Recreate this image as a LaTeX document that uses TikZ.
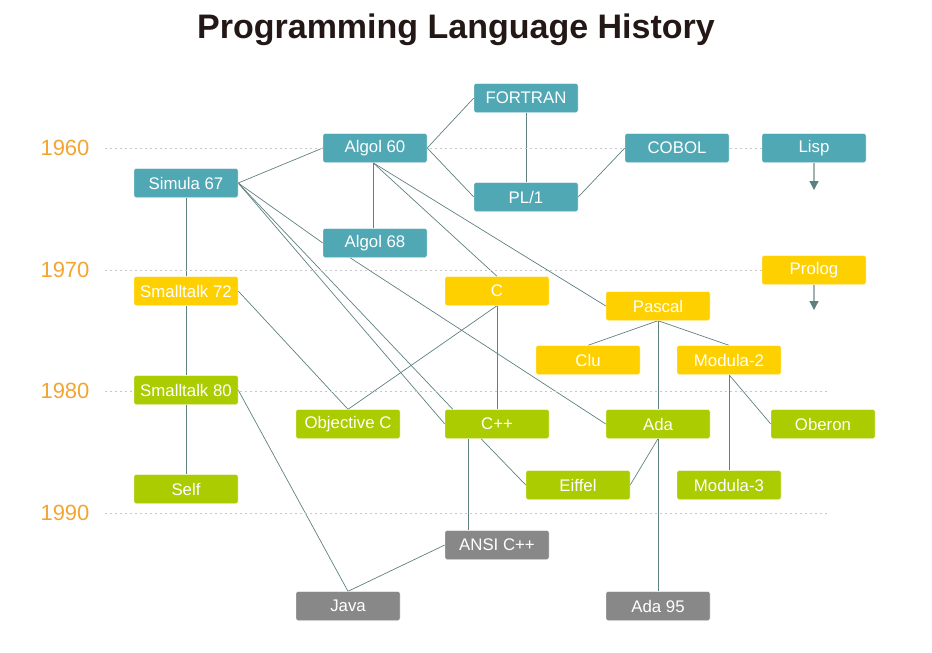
\documentclass[tikz,border=0pt]{standalone}
\usepackage{fontspec}
\setmainfont{Liberation Sans}
\usetikzlibrary{arrows.meta}
\pgfdeclarelayer{background}
\pgfsetlayers{background,main}
\definecolor{teal}{RGB}{80,168,180}
\definecolor{yel}{RGB}{255,208,0}
\definecolor{grn}{RGB}{170,204,0}
\definecolor{gry}{RGB}{136,136,136}
\definecolor{yr}{RGB}{243,165,50}
\definecolor{linec}{RGB}{95,128,128}
\definecolor{shaft}{RGB}{160,178,178}
\definecolor{grid}{RGB}{200,200,200}
\definecolor{ttl}{RGB}{35,24,21}
\tikzset{
  lang/.style={rounded corners=2pt, minimum width=104pt, minimum height=29pt, inner sep=0pt, text=white, font=\fontsize{16.8}{18}\selectfont, draw=white, line width=0.4pt},
  tl/.style={lang, fill=teal},
  yl/.style={lang, fill=yel},
  gl/.style={lang, fill=grn},
  al/.style={lang, fill=gry},
  conn/.style={draw=linec, line width=0.7pt},
  gridline/.style={draw=grid, line width=0.8pt, dash pattern=on 2pt off 3pt},
  year/.style={text=yr, font=\fontsize{22}{24}\selectfont},
  arr/.style={draw=shaft, line width=1.3pt, -{Triangle[length=9pt,width=9pt,fill=linec,color=linec]}}
}
\begin{document}
\begin{tikzpicture}[x=1pt,y=-1pt]
\useasboundingbox (0,0) rectangle (932,653);
\node[font=\bfseries\fontsize{34}{38}\selectfont, text=ttl] (title) at (456,30) {Programming Language History};
% years
\node[year] (y60) at (65,148) {1960};
\node[year] (y70) at (65,270) {1970};
\node[year] (y80) at (65,391) {1980};
\node[year] (y90) at (65,513) {1990};
\coordinate (g60a) at (105,148); \coordinate (g60b) at (828,148);
\coordinate (g70a) at (105,270); \coordinate (g70b) at (828,270);
\coordinate (g80a) at (105,391); \coordinate (g80b) at (828,391);
\coordinate (g90a) at (105,513); \coordinate (g90b) at (828,513);
\draw[gridline] (g60a) -- (g60b);
\draw[gridline] (g70a) -- (g70b);
\draw[gridline] (g80a) -- (g80b);
\draw[gridline] (g90a) -- (g90b);
% nodes
\node[tl] (fortran) at (526,98) {FORTRAN};
\node[tl] (algol60) at (375,148) {Algol 60};
\node[tl] (cobol) at (677,148) {COBOL};
\node[tl] (lisp) at (814,148) {Lisp};
\node[tl] (simula) at (186,183) {Simula 67};
\node[tl] (pl1) at (526,197) {PL/1};
\node[tl] (algol68) at (375,243) {Algol 68};
\node[yl] (prolog) at (814,270) {Prolog};
\node[yl] (st72) at (186,291) {Smalltalk 72};
\node[yl] (c) at (497,291) {C};
\node[yl] (pascal) at (658,306) {Pascal};
\node[yl] (clu) at (588,360) {Clu};
\node[yl] (mod2) at (729,360) {Modula-2};
\node[gl] (st80) at (186,390) {Smalltalk 80};
\node[gl] (objc) at (348,424) {Objective C};
\node[gl] (cpp) at (497,424) {C++};
\node[gl] (ada) at (658,424) {Ada};
\node[gl] (oberon) at (823,424) {Oberon};
\node[gl] (eiffel) at (578,485) {Eiffel};
\node[gl] (mod3) at (729,485) {Modula-3};
\node[gl] (self) at (186,489) {Self};
\node[al] (ansi) at (497,545) {ANSI C++};
\node[al] (java) at (348,606) {Java};
\node[al] (ada95) at (658,606) {Ada 95};
% connectors
\begin{pgfonlayer}{background}
\draw[conn] (algol60.east) -- (fortran.west);
\draw[conn] (algol60.east) -- (pl1.west);
\draw[conn] (fortran.south) -- (pl1.north);
\draw[conn] (cobol.west) -- (pl1.east);
\draw[conn] (simula.east) -- (algol60.west);
\draw[conn] (simula.east) -- (algol68.west);
\draw[conn] (simula.east) -- ([xshift=8pt]cpp.north west);
\draw[conn] (simula.east) -- (cpp.west);
\draw[conn] ([xshift=-2pt]algol60.south) -- ([xshift=-2pt]algol68.north);
\draw[conn] ([xshift=-2pt]algol60.south) -- (c.north);
\draw[conn] ([xshift=-2pt]algol60.south) -- (pascal.west);
\draw[conn] ([xshift=-25pt]algol68.south) -- (ada.west);
\draw[conn] (simula.south) -- (st72.north);
\draw[conn] (st72.south) -- (st80.north);
\draw[conn] (st80.south) -- (self.north);
\draw[conn] (st72.east) -- (objc.north);
\draw[conn] (c.south) -- (objc.north);
\draw[conn] (c.south) -- (cpp.north);
\draw[conn] (st80.east) -- (java.north);
\draw[conn] ([xshift=-29pt]cpp.south) -- ([xshift=-29pt]ansi.north);
\draw[conn] ([xshift=-16pt]cpp.south) -- (eiffel.west);
\draw[conn] (ansi.west) -- (java.north);
\draw[conn] (pascal.south) -- (clu.north);
\draw[conn] (pascal.south) -- (mod2.north);
\draw[conn] (pascal.south) -- (ada.north);
\draw[conn] (ada.south) -- (ada95.north);
\draw[conn] (ada.south) -- (eiffel.east);
\draw[conn] (mod2.south) -- (mod3.north);
\draw[conn] (mod2.south) -- (oberon.west);
\end{pgfonlayer}
% arrows
\coordinate (lispend) at (814,190);
\coordinate (prologend) at (814,310);
\draw[arr] (lisp.south) -- (lispend);
\draw[arr] (prolog.south) -- (prologend);
\end{tikzpicture}
\end{document}
